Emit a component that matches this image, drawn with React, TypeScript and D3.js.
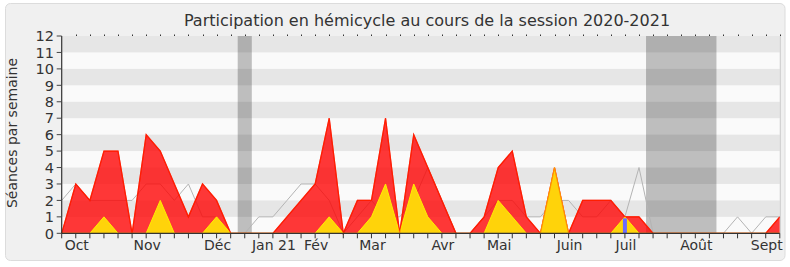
import React, { useEffect } from 'react';
import * as d3 from 'd3';

// Weekly data, session 2020-2021 (52 weeks)
const presences = [0, 3, 2, 5, 5, 0, 6, 5, 3, 1, 3, 2, 0, 0, 0, 0, 1, 2, 3, 7, 0, 2, 2, 7, 0, 6, 4, 2, 0, 0, 1, 4, 5, 1, 0, 4, 0, 2, 2, 2, 1, 1, 0, 0, 0, 0, 0, 0, 0, 0, 0, 1];
const interventions = [0, 0, 0, 1, 0, 0, 0, 2, 0, 0, 0, 1, 0, 0, 0, 0, 0, 0, 0, 1, 0, 0, 1, 3, 0, 3, 1, 0, 0, 0, 0, 2, 1, 0, 0, 4, 0, 0, 0, 0, 1, 0, 0, 0, 0, 0, 0, 0, 0, 0, 0, 0];
const mediane = [2, 3, 2, 2, 2, 2, 3, 3, 2, 3, 1, 1, 0, 0, 1, 1, 2, 3, 3, 2, 0, 1, 2, 1, 1, 2, 4, 2, 0, 0, 1, 2, 2, 1, 1, 2, 2, 1, 1, 2, 1, 4, 0, 0, 0, 0, 0, 0, 1, 0, 1, 1];
const questions = [0, 0, 0, 0, 0, 0, 0, 0, 0, 0, 0, 0, 0, 0, 0, 0, 0, 0, 0, 0, 0, 0, 0, 0, 0, 0, 0, 0, 0, 0, 0, 0, 0, 0, 0, 0, 0, 0, 0, 0, 1, 0, 0, 0, 0, 0, 0, 0, 0, 0, 0, 0];
const monthLabels = ['Oct', 'Nov', 'Déc', 'Jan 21', 'Fév', 'Mar', 'Avr', 'Mai', 'Juin', 'Juil', 'Août', 'Sept'];
const monthWeeks = [1, 6, 11, 15, 18, 22, 27, 31, 36, 40, 45, 50];
const vacationStart = [13, 42];
const vacationEnd = [13, 46];
const yTicks = [0, 1, 2, 3, 4, 5, 6, 7, 8, 9, 10, 11, 12];

const W = 790;
const H = 267;
const FONT = '"DejaVu Sans", Verdana, sans-serif';

export default function App() {
  useEffect(() => {
    document.body.style.margin = '0';
  }, []);

  const weeks = presences.map((_, i) => i);
  const x = d3.scaleLinear().domain([0, weeks.length - 1]).range([61.7, 779.8]);
  const y = d3.scaleLinear().domain([0, 12]).range([233.3, 36]);
  const step = x(1) - x(0);

  const area = d3.area<number>().x((_, i) => x(i)).y0(y(0)).y1((d) => y(d));
  const line = d3.line<number>().x((_, i) => x(i)).y((d) => y(d));

  const left = x(0);
  const right = x(weeks.length - 1);
  const top = y(12);
  const bottom = y(0);

  return (
    <svg width={W} height={H} style={{ display: 'block' }} fontFamily={FONT}>
      <rect x={0} y={0} width={W} height={H} fill="#ffffff" />
      <rect x={5.5} y={3.5} width={779.5} height={257} rx={5} fill="#f0f0f0" stroke="#dcdcdc" />

      <text x={427} y={26} textAnchor="middle" fontSize={16} fill="#333">
        Participation en hémicycle au cours de la session 2020-2021
      </text>

      {/* plot background */}
      <rect x={left} y={top} width={right - left} height={bottom - top} fill="#fafafa" />
      {vacationStart.map((s, k) => (
        <rect key={'v' + k} x={x(s) - step / 2} y={top} width={(vacationEnd[k] - s + 1) * step} height={bottom - top} fill="#bebebe" />
      ))}
      {yTicks.filter((t) => t % 2 === 1).map((t) => (
        <rect key={'s' + t} x={left} y={y(t + 1)} width={right - left} height={y(t) - y(t + 1)} fill="rgba(0,0,0,0.08)" />
      ))}

      {/* median line */}
      <path d={line(mediane) || ''} fill="none" stroke="#b4b4b4" strokeWidth={1} />

      {/* presences */}
      <path d={area(presences) || ''} fill="rgba(255,0,0,0.78)" />
      <path d={line(presences) || ''} fill="none" stroke="#ff0000" strokeWidth={1.2} />

      {/* interventions */}
      <path d={area(interventions) || ''} fill="#ffd30a" />
      <path d={line(interventions) || ''} fill="none" stroke="#ffee00" strokeWidth={1} />
      <path d={line(presences) || ''} fill="none" stroke="rgba(255,60,0,0.5)" strokeWidth={1.2} />

      {/* questions */}
      {questions.map((q, i) =>
        q > 0 ? (
          <rect key={'q' + i} x={x(i) - 2} y={y(q) + 1.5} width={4} height={bottom - y(q) - 1.5} fill="#6b6bff" />
        ) : null
      )}

      {/* right border */}
      <line x1={right + 0.5} x2={right + 0.5} y1={top} y2={bottom} stroke="#cccccc" />

      {/* top tick dots */}
      {weeks.slice(1).map((i) => (
        <line key={'tt' + i} x1={Math.round(x(i)) + 0.5} x2={Math.round(x(i)) + 0.5} y1={top - 1.5} y2={top} stroke="#333" />
      ))}

      {/* y axis */}
      <line x1={left} x2={left} y1={top} y2={bottom} stroke="#333" strokeWidth={1.2} />
      {yTicks.map((t) => (
        <g key={'y' + t}>
          <line x1={left - 5} x2={left} y1={y(t)} y2={y(t)} stroke="#444" />
          <text x={54} y={y(t)} dy="0.36em" textAnchor="end" fontSize={14.5} fill="#333">
            {t}
          </text>
        </g>
      ))}

      {/* x axis */}
      <line x1={left} x2={right} y1={bottom} y2={bottom} stroke="#333" strokeWidth={1.2} />
      {weeks.map((i) => (
        <line key={'xt' + i} x1={x(i)} x2={x(i)} y1={bottom} y2={bottom + 5} stroke="#333" />
      ))}
      {monthLabels.map((m, k) => (
        <text key={'m' + k} x={x(monthWeeks[k]) + 1} y={250} textAnchor="middle" fontSize={14} fill="#333">
          {m}
        </text>
      ))}

      <text transform={`translate(17,133) rotate(-90)`} textAnchor="middle" fontSize={14} fill="#333">
        Séances par semaine
      </text>
    </svg>
  );
}
